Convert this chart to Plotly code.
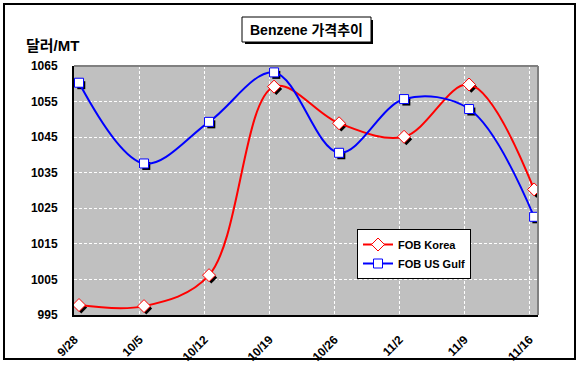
import plotly.graph_objects as go

dates = ["9/28", "10/5", "10/12", "10/19", "10/26", "11/2", "11/9", "11/16"]
korea = [997.8, 997.5, 1006.2, 1059.2, 1048.9, 1045.1, 1059.8, 1030.3]
usgulf = [1060.3, 1037.6, 1049.3, 1063.2, 1040.6, 1055.7, 1052.9, 1022.6]
yticks = [995, 1005, 1015, 1025, 1035, 1045, 1055, 1065]

W, H = 581, 366
ML, MR, MT, MB = 74, 43, 66, 51
PW, PH = W - ML - MR, H - MT - MB

def px(x):
    return (x - ML) / PW

def py(y):
    return (H - MB - y) / PH

xs = list(range(len(dates)))
tickpos = [i - 0.07 for i in xs]
FONT = "Liberation Sans, Arial, Noto Sans CJK KR"

fig = go.Figure()
for ys, sym, sz in [(korea, "diamond", 10), (usgulf, "square", 9)]:
    fig.add_trace(go.Scatter(x=[x + 0.035 for x in xs], y=[v - 0.7 for v in ys], mode="markers",
                             marker=dict(symbol=sym, size=sz - 1, color="black"),
                             showlegend=False, hoverinfo="skip"))
fig.add_trace(go.Scatter(x=xs, y=korea, name="FOB Korea", mode="lines+markers",
                         line=dict(color="#FF0000", width=2, shape="spline", smoothing=1),
                         marker=dict(symbol="diamond", size=10, color="white",
                                     line=dict(color="#FF0000", width=1))))
fig.add_trace(go.Scatter(x=xs, y=usgulf, name="FOB US Gulf", mode="lines+markers",
                         line=dict(color="#0000FF", width=2, shape="spline", smoothing=1),
                         marker=dict(symbol="square", size=9, color="white",
                                     line=dict(color="#0000FF", width=1))))

fig.update_layout(
    width=W, height=H,
    margin=dict(l=ML, r=MR, t=MT, b=MB, autoexpand=False),
    paper_bgcolor="white", plot_bgcolor="#C0C0C0",
    font=dict(family=FONT, size=12, color="black"),
    xaxis=dict(range=[-0.077, 7.06], tickmode="array", tickvals=tickpos, ticktext=dates,
               tickangle=-45, showgrid=True, gridcolor="white", griddash="3px,2px", gridwidth=1,
               zeroline=False, showline=True, linecolor="black", linewidth=2, ticks="",
               automargin=False, ticklabelstandoff=11,
               tickfont=dict(family=FONT, size=12, weight="bold")),
    yaxis=dict(range=[995, 1065], tickmode="array", tickvals=yticks,
               showgrid=True, gridcolor="white", griddash="3px,2px", gridwidth=1,
               zeroline=False, showline=True, linecolor="black", linewidth=2, ticks="",
               ticklabelstandoff=12, automargin=False,
               tickfont=dict(family=FONT, size=12, weight="bold")),
    legend=dict(x=px(357), y=py(229), xanchor="left", yanchor="top",
                bgcolor="white", bordercolor="black", borderwidth=1,
                font=dict(family=FONT, size=11, weight="bold"),
                tracegroupgap=0, itemwidth=30),
    showlegend=True,
)

shapes = [
    dict(type="rect", xref="paper", yref="paper", x0=px(4), x1=px(575), y0=py(4), y1=py(359),
         line=dict(color="black", width=2), layer="below"),
    dict(type="line", xref="paper", yref="paper", x0=0, x1=1, y0=1, y1=1,
         line=dict(color="#808080", width=2)),
    dict(type="line", xref="paper", yref="paper", x0=1, x1=1, y0=0, y1=1,
         line=dict(color="#808080", width=2)),
    dict(type="rect", xref="paper", yref="paper", x0=px(245), x1=px(373), y0=py(20), y1=py(44),
         line=dict(width=0), fillcolor="black"),
    dict(type="rect", xref="paper", yref="paper", x0=px(242), x1=px(371), y0=py(17), y1=py(42),
         line=dict(color="black", width=1), fillcolor="white"),
]
fig.update_layout(shapes=shapes)

fig.add_annotation(x=px(306), y=py(30), xref="paper", yref="paper", text="Benzene 가격추이",
                   showarrow=False, xanchor="center", yanchor="middle",
                   font=dict(family=FONT, size=14, weight="bold"))
fig.add_annotation(x=px(24), y=py(46), xref="paper", yref="paper", text="달러/MT",
                   showarrow=False, xanchor="left", yanchor="middle",
                   font=dict(family=FONT, size=15, weight="bold"))

fig.write_html("out.html", config={"displayModeBar": False},
               post_script="document.body.style.margin='0';document.body.style.overflow='hidden';")
